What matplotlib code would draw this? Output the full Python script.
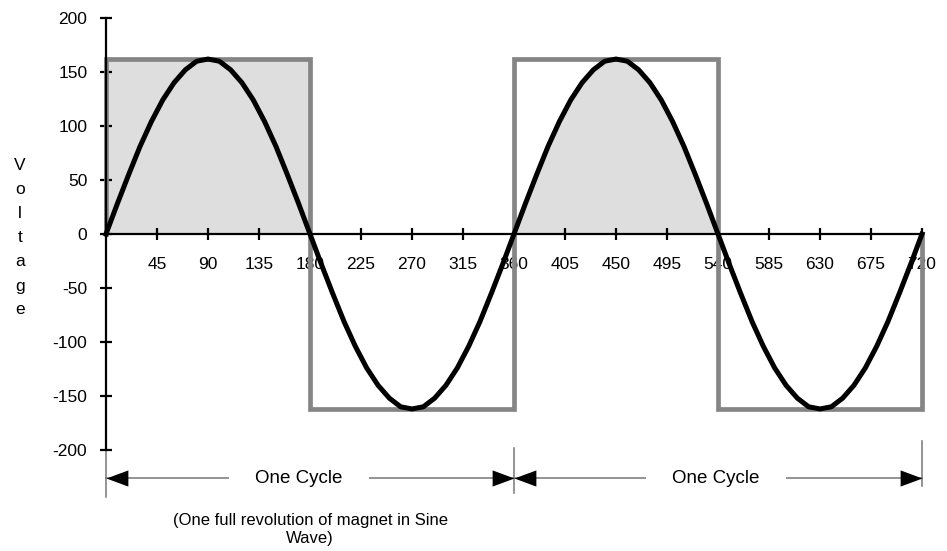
import numpy as np
import matplotlib
matplotlib.use("Agg")
import matplotlib.pyplot as plt
from matplotlib.path import Path

plt.rcParams['font.family'] = ['Liberation Sans', 'DejaVu Sans']

# Rotation angle of the magnet (degrees) and the induced voltage
degrees = list(range(0, 721, 10))
voltage = [0, 28, 55, 81, 104, 124, 140, 152, 160, 162,
           160, 152, 140, 124, 104, 81, 55, 28, 0,
           -28, -55, -81, -104, -124, -140, -152, -160, -162,
           -160, -152, -140, -124, -104, -81, -55, -28, 0,
           28, 55, 81, 104, 124, 140, 152, 160, 162,
           160, 152, 140, 124, 104, 81, 55, 28, 0,
           -28, -55, -81, -104, -124, -140, -152, -160, -162,
           -160, -152, -140, -124, -104, -81, -55, -28, 0]

# Equivalent square wave
square_x = [0, 0, 180, 180, 360, 360, 540, 540, 720, 720]
square_y = [0, 162, 162, -162, -162, 162, 162, -162, -162, 0]

x_ticks = [45, 90, 135, 180, 225, 270, 315, 360, 405, 450, 495, 540, 585, 630, 675, 720]
y_ticks = [-200, -150, -100, -50, 0, 50, 100, 150, 200]

cycle_bounds = [(0, 360), (360, 720)]
cycle_label_x = [170, 538]
cycle_label = "One Cycle"

W, H = 947, 551
fig = plt.figure(figsize=(W / 100, H / 100), dpi=100)
ax = fig.add_axes([106 / W, (H - 450) / H, 816 / W, 432 / H])
ax.set_xlim(0, 720)
ax.set_ylim(-200, 200)
ax.patch.set_alpha(0)

# shaded areas
ax.fill_between([square_x[1], square_x[2]], 0, square_y[1], color='#dedede', lw=0, zorder=1)
deg = np.array(degrees)
volt = np.array(voltage)
m = (deg >= 360) & (deg <= 540)
ax.fill_between(deg[m], 0, volt[m], color='#dedede', lw=0, zorder=1)

# curves
ax.plot(square_x, square_y, color='#858585', lw=3.4, zorder=3,
        solid_joinstyle='miter', clip_on=False)
ax.plot(degrees, voltage, color='black', lw=3.6, zorder=4, clip_on=False)

# axes through origin
for s in ['top', 'right']:
    ax.spines[s].set_visible(False)
ax.spines['left'].set_position(('data', 0))
ax.spines['bottom'].set_position(('data', 0))
ax.spines['left'].set_linewidth(1.6)
ax.spines['bottom'].set_linewidth(1.6)
ax.spines['left'].set_zorder(5)
ax.spines['bottom'].set_zorder(5)
ax.set_xticks(x_ticks)
ax.set_xticklabels([str(v) for v in x_ticks])
ax.set_yticks(y_ticks)
ax.set_yticklabels([str(v) for v in y_ticks])
ax.tick_params(axis='x', direction='inout', length=9, width=1.6, pad=12,
               labelsize=12.5)
ax.tick_params(axis='y', direction='inout', length=8, width=1.6, pad=9.5,
               labelsize=12.5)
for lab in ax.get_xticklabels():
    lab.set_zorder(2)

# y-axis title, stacked letters
fig.text(20 / W, 1 - 238 / H, "\n".join("Voltage"), ha='center', va='center',
         fontsize=12.5, linespacing=1.75)

# cycle dimension arrows
arrow_y = -226
head = Path([(0, 0), (-1, 0.37), (-1, -0.37), (0, 0)],
            [Path.MOVETO, Path.LINETO, Path.LINETO, Path.CLOSEPOLY])
head_l = Path([(0, 0), (1, 0.37), (1, -0.37), (0, 0)],
              [Path.MOVETO, Path.LINETO, Path.LINETO, Path.CLOSEPOLY])
ext = [(-200, -243.5), (-198, -240), (-192, -233)]
for (a, b), lx in zip(cycle_bounds, cycle_label_x):
    ax.plot([a, b], [arrow_y, arrow_y], color='#777777', lw=1.1, clip_on=False, zorder=2)
    ax.plot([a], [arrow_y], marker=head_l, ms=31.5, color='black', mew=0,
            clip_on=False, zorder=3)
    ax.plot([b], [arrow_y], marker=head, ms=31.5, color='black', mew=0,
            clip_on=False, zorder=3)
    ax.text(lx, arrow_y, cycle_label, ha='center', va='center', fontsize=13.5,
            bbox=dict(boxstyle='square,pad=1.4', fc='white', ec='none'), zorder=2.5,
            clip_on=False)
for xv, (y0, y1) in zip([0, 360, 720], ext):
    ax.plot([xv, xv], [y0, y1], color='#777777', lw=1.1, clip_on=False, zorder=2)

ax.text(180, -258, "(One full revolution of magnet in Sine\nWave)", ha='center',
        va='top', fontsize=12, linespacing=1.25, clip_on=False)

fig.savefig("out.png", dpi=100)
